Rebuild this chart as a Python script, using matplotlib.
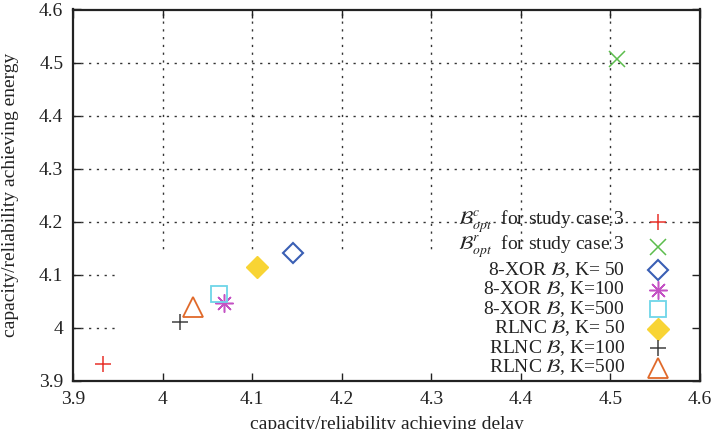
import matplotlib
matplotlib.use("Agg")
import matplotlib.pyplot as plt
from matplotlib.patches import Rectangle
from matplotlib.ticker import FormatStrFormatter, MultipleLocator

plt.rcParams["font.family"] = ["Liberation Serif", "DejaVu Serif"]
plt.rcParams["mathtext.fontset"] = "stix"

# data
labels = [
    r"$\mathcal{B}^{c}_{opt}$  for study case 3",
    r"$\mathcal{B}^{r}_{opt}$  for study case 3",
    r"8-XOR $\mathcal{B}$, K= 50",
    r"8-XOR $\mathcal{B}$, K=100",
    r"8-XOR $\mathcal{B}$, K=500",
    r"RLNC $\mathcal{B}$, K= 50",
    r"RLNC $\mathcal{B}$, K=100",
    r"RLNC $\mathcal{B}$, K=500",
]
delay = [3.933, 4.507, 4.146, 4.069, 4.063, 4.105, 4.019, 4.034]
energy = [3.932, 4.506, 4.141, 4.047, 4.064, 4.114, 4.011, 4.040]

styles = [
    dict(marker="+", color="#e8322a", ms=12, mew=1.1, mfc="none"),
    dict(marker="x", color="#5cbd4c", ms=11, mew=1.1, mfc="none"),
    dict(marker="D", color="#3a5fb4", ms=10, mew=1.5, mfc="none"),
    dict(marker=(8, 2, 0), color="#c452c4", ms=13, mew=1.1, mfc="none"),
    dict(marker="s", color="#6ed6e8", ms=11, mew=1.3, mfc="none"),
    dict(marker="D", color="#f8d434", ms=11, mew=1.0, mfc="#f8d434"),
    dict(marker="+", color="#404040", ms=12, mew=1.1, mfc="none"),
    dict(marker="^", color="#e0692a", ms=14, mew=1.3, mfc="none"),
]
# legend row positions (pixels from top of figure)
row_px = [222, 247, 270, 289.5, 309, 328.5, 348, 367.5]
FS = 14

fig = plt.figure(figsize=(7.16, 4.29), dpi=100)
ax = fig.add_axes([73 / 716, 48 / 429, 627 / 716, 371.5 / 429])
ax.set_xlim(3.9, 4.6)
ax.set_ylim(3.9, 4.6)
ax.xaxis.set_major_locator(MultipleLocator(0.1))
ax.yaxis.set_major_locator(MultipleLocator(0.1))
ax.xaxis.set_major_formatter(FormatStrFormatter("%g"))
ax.yaxis.set_major_formatter(FormatStrFormatter("%g"))

grid_ticks = [4.0, 4.1, 4.2, 4.3, 4.4, 4.5]
ax.vlines(grid_ticks, 3.9, 4.6, colors="#333333", linestyles=(0, (1.6, 4)), linewidth=1.0, zorder=0.5)
ax.hlines(grid_ticks, 3.9, 4.6, colors="#333333", linestyles=(0, (1.6, 4)), linewidth=1.0, zorder=0.5)
# white area where the reference hides the grid
ax.add_patch(Rectangle((3.952, 3.9), 0.648, 0.246, facecolor="white", edgecolor="none", zorder=1))

for x, y, st in zip(delay, energy, styles):
    ax.plot([x], [y], linestyle="none", marker=st["marker"], color=st["color"],
            markersize=st["ms"], markeredgewidth=st["mew"], markerfacecolor=st["mfc"], zorder=3)

# key drawn on the right, text right aligned, marker after the text
for lab, st, py in zip(labels, styles, row_px):
    ya = (381 - py) / 371.5
    ax.text((625 - 73) / 627, ya, lab, transform=ax.transAxes, ha="right", va="center",
            fontsize=FS, color="#222222", zorder=4)
    ax.plot([(658 - 73) / 627], [ya], transform=ax.transAxes, linestyle="none", marker=st["marker"],
            color=st["color"], markersize=st["ms"], markeredgewidth=st["mew"],
            markerfacecolor=st["mfc"], clip_on=False, zorder=4)

ax.tick_params(direction="in", length=6, width=1.0, top=True, right=True,
               labelsize=FS, colors="#222222", pad=7)
for sp in ax.spines.values():
    sp.set_linewidth(1.6)
    sp.set_color("#222222")

ax.set_xlabel("capacity/reliability achieving delay", fontsize=FS, color="#222222", labelpad=6)
ax.set_ylabel("capacity/reliability achieving energy", fontsize=FS, color="#222222", labelpad=14)

fig.savefig("out.png", dpi=100)
